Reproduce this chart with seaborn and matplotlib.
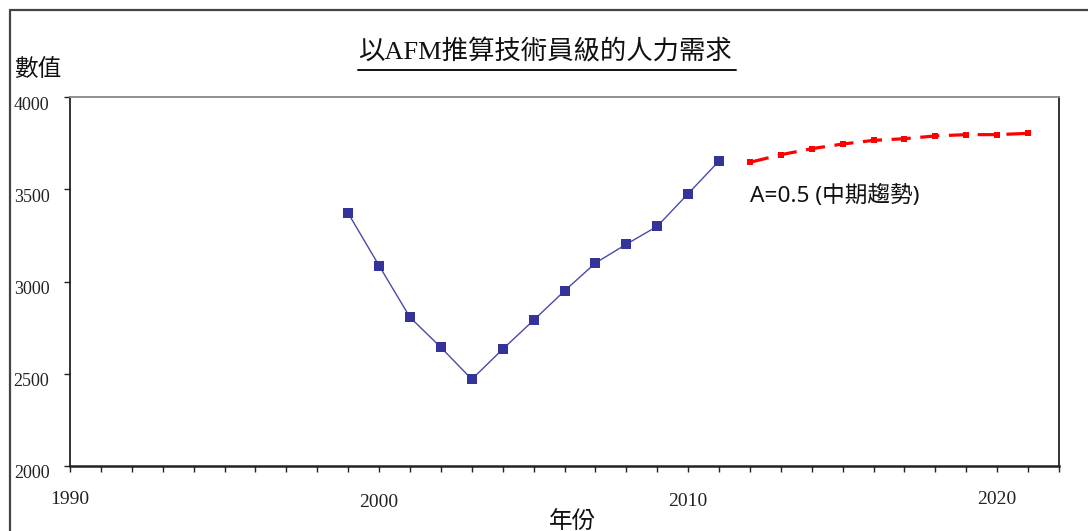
import matplotlib
matplotlib.use("Agg")
import matplotlib.pyplot as plt
import matplotlib.transforms as mtransforms
from matplotlib.lines import Line2D
import seaborn as sns
import pandas as pd

# Historical series (blue) and AFM projection (red)
hist_years = [1999, 2000, 2001, 2002, 2003, 2004, 2005, 2006, 2007, 2008, 2009, 2010, 2011]
hist_values = [3370, 3086, 2806, 2643, 2470, 2633, 2790, 2949, 3100, 3202, 3299, 3476, 3653]
proj_years = [2012, 2013, 2014, 2015, 2016, 2017, 2018, 2019, 2020, 2021]
proj_values = [3646, 3687, 3720, 3745, 3765, 3774, 3789, 3796, 3796, 3803]

x_ticks_major = [1990, 2000, 2010, 2020]
y_ticks = [2000, 2500, 3000, 3500, 4000]

title_text = "以AFM推算技術員級的人力需求"
ylabel_text = "數值"
xlabel_text = "年份"
note_text = "A=0.5 (中期趨勢)"

sns.set_theme(style="white")
plt.rcParams["font.family"] = ["Liberation Serif", "Noto Sans CJK TC"]

W, H = 1088, 531
fig = plt.figure(figsize=(W / 100, H / 100), dpi=100)
ax = fig.add_axes([70 / W, 1 - 466 / H, (1059 - 70) / W, (466 - 97) / H])

hist_df = pd.DataFrame({"year": hist_years, "value": hist_values})
proj_df = pd.DataFrame({"year": proj_years, "value": proj_values})

sns.lineplot(data=hist_df, x="year", y="value", ax=ax, color="#4a4aa8", linewidth=1.0,
             marker="s", markersize=7.5, markerfacecolor="#333399",
             markeredgecolor="#333399", markeredgewidth=0)
sns.lineplot(data=proj_df, x="year", y="value", ax=ax, color="#ff0000", linewidth=2.3,
             marker="s", markersize=4.6, markerfacecolor="#ff0000",
             markeredgecolor="#ff0000", markeredgewidth=0)
ax.lines[-1].set_dashes((6, 3))

ax.set_xlim(1990, 2022)
ax.set_ylim(2000, 4000)
ax.set_xticks(x_ticks_major)
ax.set_xticks(list(range(1990, 2023)), minor=True)
ax.set_xticklabels([str(t) for t in x_ticks_major])
ax.set_yticks(y_ticks)
ax.set_yticklabels([str(t) for t in y_ticks])
ax.set_xlabel("")
ax.set_ylabel("")
ax.grid(False)

for side, col, lw in [("left", "#111111", 1.2), ("right", "#111111", 1.2),
                      ("top", "#888888", 1.3), ("bottom", "#222222", 1.8)]:
    ax.spines[side].set_visible(True)
    ax.spines[side].set_color(col)
    ax.spines[side].set_linewidth(lw)

ax.tick_params(axis="x", which="both", direction="out", length=4.3, width=1.0,
               color="#222222", bottom=True, top=False, pad=14)
ax.tick_params(axis="x", which="major", labelsize=14, labelcolor="#222222")
ax.tick_params(axis="y", which="major", direction="out", length=4.3, width=1.0,
               color="#222222", left=True, right=False, pad=10.5,
               labelsize=13, labelcolor="#222222")

# small vertical offsets for the tick labels
x_offsets = {"1990": 0, "2000": -3, "2010": -2, "2020": 0}
for lab in ax.get_xticklabels():
    dy = x_offsets.get(lab.get_text(), 0)
    lab.set_transform(lab.get_transform() + mtransforms.ScaledTranslation(0, dy / 100, fig.dpi_scale_trans))
for lab in ax.get_yticklabels():
    lab.set_transform(lab.get_transform() + mtransforms.ScaledTranslation(0, -6 / 100, fig.dpi_scale_trans))

ax.text(2012, 3465, note_text, fontsize=16.3, va="center", ha="left", color="#111111",
        family=["Noto Sans", "Noto Sans CJK TC"])

title = fig.text(545 / W, 1 - 52 / H, title_text, fontsize=19, ha="center", va="center",
                 color="#111111", family=["Liberation Serif", "Noto Sans CJK TC"])
fig.text(38 / W, 1 - 70 / H, ylabel_text, fontsize=17, ha="center", va="center",
         color="#111111", family=["Noto Sans CJK TC"])
fig.text(572 / W, 1 - 521 / H, xlabel_text, fontsize=17, ha="center", va="center",
         color="#111111", family=["Noto Sans CJK TC"])

# outer frame (left and top edges)
fig.add_artist(Line2D([10 / W, 10 / W], [0, 1 - 10 / H], transform=fig.transFigure,
                      color="#444444", linewidth=1.6))
fig.add_artist(Line2D([10 / W, 1], [1 - 10 / H, 1 - 10 / H], transform=fig.transFigure,
                      color="#444444", linewidth=1.6))

# underline the title
fig.canvas.draw()
bb = title.get_window_extent(renderer=fig.canvas.get_renderer())
uy = 1 - 70 / H
fig.add_artist(Line2D([bb.x0 / W, (bb.x1 + 4) / W], [uy, uy], transform=fig.transFigure,
                      color="#111111", linewidth=1.4))

fig.savefig("out.png", dpi=100)
